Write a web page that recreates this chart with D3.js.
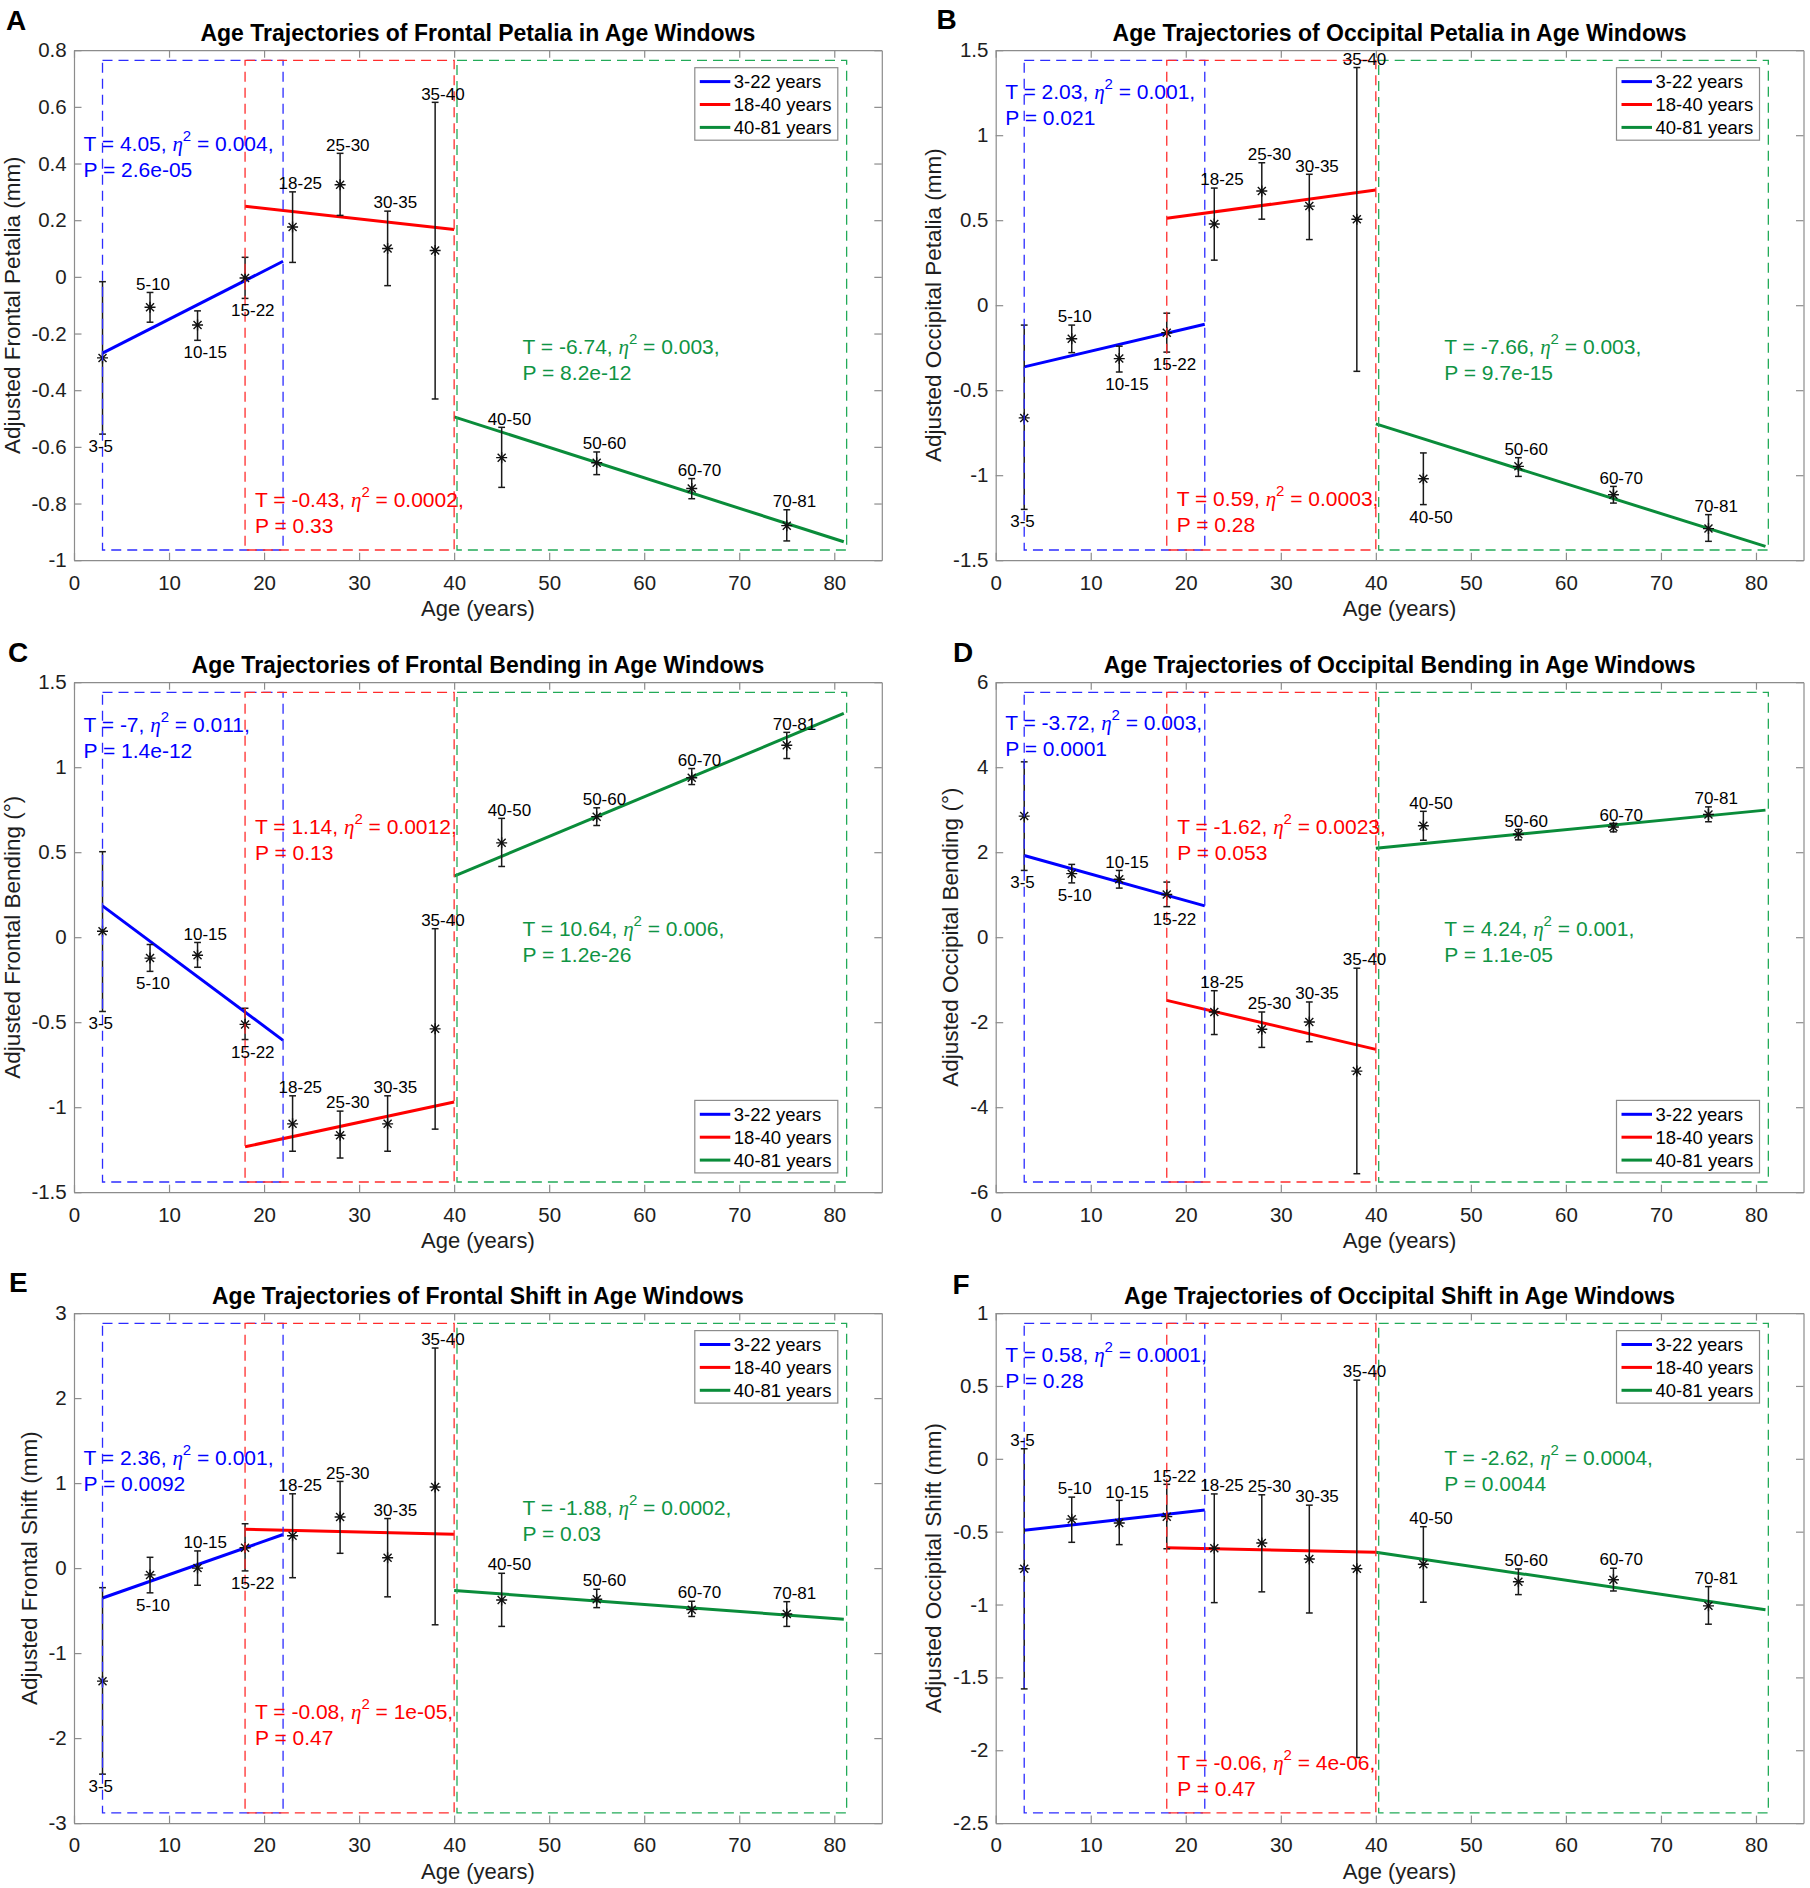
<!DOCTYPE html>
<html>
<head>
<meta charset="utf-8">
<script src="https://cdn.jsdelivr.net/npm/d3@7"></script>
<style>body{margin:0;background:#fff}</style>
</head>
<body>
<svg id="chart" width="1810" height="1888"></svg>
<script>
// ---------------- DATA ----------------
const ageGroups = ["3-5","5-10","10-15","15-22","18-25","25-30","30-35","35-40","40-50","50-60","60-70","70-81"];
const ageMidpoints = [3, 8, 13, 18, 23, 28, 33, 38, 45, 55, 65, 75];
const xDomain = [0, 85];
const xTicks = [0, 10, 20, 30, 40, 50, 60, 70, 80];
const windowNames = ["3-22 years", "18-40 years", "40-81 years"];
const fitRanges = [[3, 22], [18, 40], [40, 81]];
const boxRanges = [[3, 22], [18, 40], [40.3, 81.3]];

const panelLetters = ["A", "B", "C", "D", "E", "F"];
const panelTitles = [
  "Age Trajectories of Frontal Petalia in Age Windows",
  "Age Trajectories of Occipital Petalia in Age Windows",
  "Age Trajectories of Frontal Bending in Age Windows",
  "Age Trajectories of Occipital Bending in Age Windows",
  "Age Trajectories of Frontal Shift in Age Windows",
  "Age Trajectories of Occipital Shift in Age Windows"
];
const yLabels = [
  "Adjusted Frontal Petalia (mm)",
  "Adjusted Occipital Petalia (mm)",
  "Adjusted Frontal Bending (°)",
  "Adjusted Occipital Bending (°)",
  "Adjusted Frontal Shift (mm)",
  "Adjusted Occipital Shift (mm)"
];
const yDomains = [[-1, 0.8], [-1.5, 1.5], [-1.5, 1.5], [-6, 6], [-3, 3], [-2.5, 1]];
const yTickSets = [
  [-1, -0.8, -0.6, -0.4, -0.2, 0, 0.2, 0.4, 0.6, 0.8],
  [-1.5, -1, -0.5, 0, 0.5, 1, 1.5],
  [-1.5, -1, -0.5, 0, 0.5, 1, 1.5],
  [-6, -4, -2, 0, 2, 4, 6],
  [-3, -2, -1, 0, 1, 2, 3],
  [-2.5, -2, -1.5, -1, -0.5, 0, 0.5, 1]
];

// A: Frontal Petalia
const frontalPetaliaMean = [-0.286, -0.107, -0.170, -0.004, 0.176, 0.325, 0.100, 0.093, -0.638, -0.656, -0.747, -0.878];
const frontalPetaliaLow  = [-0.555, -0.160, -0.224, -0.076, 0.051, 0.217, -0.031, -0.431, -0.743, -0.698, -0.783, -0.932];
const frontalPetaliaHigh = [-0.017, -0.055, -0.120, 0.069, 0.300, 0.436, 0.232, 0.616, -0.531, -0.618, -0.712, -0.822];
const frontalPetaliaTrend = [[-0.269, 0.055], [0.249, 0.167], [-0.494, -0.935]];
const frontalPetaliaLabelSide = ["b","a","b","b","a","a","a","a","a","a","a","a"];
const frontalPetaliaStats = [["4.05", "0.004", "2.6e-05"], ["-0.43", "0.0002", "0.33"], ["-6.74", "0.003", "8.2e-12"]];
const frontalPetaliaStatAt = [[1.0, 0.445], [19.05, -0.811], [47.2, -0.273]];

// B: Occipital Petalia
const occipitalPetaliaMean = [-0.663, -0.197, -0.314, -0.162, 0.478, 0.672, 0.583, 0.506, -1.021, -0.948, -1.115, -1.314];
const occipitalPetaliaLow  = [-1.201, -0.279, -0.393, -0.276, 0.265, 0.506, 0.386, -0.389, -1.173, -1.007, -1.164, -1.389];
const occipitalPetaliaHigh = [-0.117, -0.117, -0.241, -0.047, 0.689, 0.838, 0.770, 1.398, -0.869, -0.897, -1.066, -1.232];
const occipitalPetaliaTrend = [[-0.363, -0.112], [0.511, 0.677], [-0.698, -1.419]];
const occipitalPetaliaLabelSide = ["b","a","b","b","a","a","a","a","b","a","a","a"];
const occipitalPetaliaStats = [["2.03", "0.001", "0.021"], ["0.59", "0.0003", "0.28"], ["-7.66", "0.003", "9.7e-15"]];
const occipitalPetaliaStatAt = [[1.0, 1.211], [19.05, -1.183], [47.2, -0.288]];

// C: Frontal Bending
const frontalBendingMean = [0.035, -0.123, -0.106, -0.513, -1.098, -1.165, -1.098, -0.539, 0.555, 0.709, 0.938, 1.129];
const frontalBendingLow  = [-0.437, -0.201, -0.177, -0.602, -1.259, -1.299, -1.259, -1.129, 0.416, 0.657, 0.898, 1.051];
const frontalBendingHigh = [0.503, -0.043, -0.031, -0.418, -0.933, -1.023, -0.933, 0.050, 0.699, 0.761, 0.992, 1.205];
const frontalBendingTrend = [[0.184, -0.607], [-1.233, -0.969], [0.359, 1.316]];
const frontalBendingLabelSide = ["b","b","a","b","a","a","a","a","a","a","a","a"];
const frontalBendingStats = [["-7", "0.011", "1.4e-12"], ["1.14", "0.0012", "0.13"], ["10.64", "0.006", "1.2e-26"]];
const frontalBendingStatAt = [[1.0, 1.205], [19.05, 0.607], [47.2, 0.007]];

// D: Occipital Bending
const occipitalBendingMean = [2.849, 1.495, 1.363, 1.003, -1.760, -2.167, -1.997, -3.151, 2.621, 2.423, 2.593, 2.886];
const occipitalBendingLow  = [1.571, 1.278, 1.155, 0.719, -2.290, -2.593, -2.460, -5.565, 2.281, 2.290, 2.479, 2.716];
const occipitalBendingHigh = [4.126, 1.713, 1.571, 1.297, -1.259, -1.760, -1.524, -0.729, 2.962, 2.536, 2.678, 3.066];
const occipitalBendingTrend = [[1.921, 0.738], [-1.486, -2.640], [2.091, 2.990]];
const occipitalBendingLabelSide = ["b","b","a","b","a","a","a","a","a","a","a","a"];
const occipitalBendingStats = [["-3.72", "0.003", "0.0001"], ["-1.62", "0.0023", "0.053"], ["4.24", "0.001", "1.1e-05"]];
const occipitalBendingStatAt = [[1.0, 4.864], [19.1, 2.423], [47.2, 0.019]];

// E: Frontal Shift
const frontalShiftMean = [-1.330, -0.080, 0.000, 0.240, 0.381, 0.601, 0.122, 0.954, -0.376, -0.366, -0.489, -0.540];
const frontalShiftLow  = [-2.424, -0.291, -0.202, -0.033, -0.113, 0.174, -0.338, -0.667, -0.686, -0.465, -0.569, -0.686];
const frontalShiftHigh = [-0.230, 0.127, 0.202, 0.522, 0.874, 1.020, 0.583, 2.589, -0.061, -0.249, -0.390, -0.395];
const frontalShiftTrend = [[-0.352, 0.395], [0.456, 0.399], [-0.263, -0.601]];
const frontalShiftLabelSide = ["b","b","a","b","a","a","a","a","a","a","a","a"];
const frontalShiftStats = [["2.36", "0.001", "0.0092"], ["-0.08", "1e-05", "0.47"], ["-1.88", "0.0002", "0.03"]];
const frontalShiftStatAt = [[1.0, 1.217], [19.05, -1.776], [47.2, 0.620]];

// F: Occipital Shift
const occipitalShiftMean = [-0.754, -0.414, -0.441, -0.397, -0.614, -0.578, -0.688, -0.754, -0.724, -0.844, -0.830, -1.009];
const occipitalShiftLow  = [-1.579, -0.573, -0.589, -0.617, -0.987, -0.913, -1.058, -2.050, -0.984, -0.932, -0.907, -1.135];
const occipitalShiftHigh = [0.069, -0.263, -0.285, -0.175, -0.241, -0.247, -0.318, 0.540, -0.466, -0.756, -0.751, -0.877];
const occipitalShiftTrend = [[-0.491, -0.351], [-0.611, -0.641], [-0.641, -1.036]];
const occipitalShiftLabelSide = ["a","a","a","a","a","a","a","a","a","a","a","a"];
const occipitalShiftStats = [["0.58", "0.0001", "0.28"], ["-0.06", "4e-06", "0.47"], ["-2.62", "0.0004", "0.0044"]];
const occipitalShiftStatAt = [[1.0, 0.663], [19.1, -2.138], [47.2, -0.044]];

const legendCorners = ["top", "top", "bottom", "bottom", "top", "top"];

// ---------------- BUILD PANELS ----------------
const panels = [
  [frontalPetaliaMean, frontalPetaliaLow, frontalPetaliaHigh, frontalPetaliaTrend, frontalPetaliaLabelSide, frontalPetaliaStats, frontalPetaliaStatAt],
  [occipitalPetaliaMean, occipitalPetaliaLow, occipitalPetaliaHigh, occipitalPetaliaTrend, occipitalPetaliaLabelSide, occipitalPetaliaStats, occipitalPetaliaStatAt],
  [frontalBendingMean, frontalBendingLow, frontalBendingHigh, frontalBendingTrend, frontalBendingLabelSide, frontalBendingStats, frontalBendingStatAt],
  [occipitalBendingMean, occipitalBendingLow, occipitalBendingHigh, occipitalBendingTrend, occipitalBendingLabelSide, occipitalBendingStats, occipitalBendingStatAt],
  [frontalShiftMean, frontalShiftLow, frontalShiftHigh, frontalShiftTrend, frontalShiftLabelSide, frontalShiftStats, frontalShiftStatAt],
  [occipitalShiftMean, occipitalShiftLow, occipitalShiftHigh, occipitalShiftTrend, occipitalShiftLabelSide, occipitalShiftStats, occipitalShiftStatAt]
].map((a, i) => ({
  letter: panelLetters[i], title: panelTitles[i], ylabel: yLabels[i],
  yDomain: yDomains[i], yTicks: yTickSets[i],
  mean: a[0], low: a[1], high: a[2], trend: a[3], side: a[4], stats: a[5], statAt: a[6],
  legend: legendCorners[i]
}));

// ---------------- LAYOUT / STYLE ----------------
const SANS = '"Liberation Sans", Arial, Helvetica, sans-serif';
const SERIF = '"Liberation Serif", "Times New Roman", serif';
const PW = 807.8, PH = 510;
const LEFTS = [74, 995.7], TOPS = [50.2, 682.2, 1313.1];
const LETTER_POS = [[6, 30], [936.5, 28.7], [8, 662], [953, 662], [9, 1292], [952.5, 1294]];
const LINE_COLORS = ["#0000ff", "#ff0000", "#0a8c3a"];
const BOX_COLORS = ["#2c2cff", "#ff2c2c", "#22aa58"];
const TEXT_COLORS = ["#0000ff", "#ff0000", "#0f9444"];
const AX = "#8c8c8c";

const svg = d3.select("#chart");
svg.append("rect").attr("width", 1810).attr("height", 1888).attr("fill", "#fff");

const fmt = v => String(+v.toFixed(2));
const starPath = "M-5.5,0H5.5M0,-5.5V5.5M-4,-4L4,4M-4,4L4,-4";

panels.forEach((p, i) => {
  const L = LEFTS[i % 2], T = TOPS[Math.floor(i / 2)];
  const x = d3.scaleLinear().domain(xDomain).range([L, L + PW]);
  const y = d3.scaleLinear().domain(p.yDomain).range([T + PH, T]);
  const g = svg.append("g");

  // axes (box with inward ticks)
  const aB = g.append("g").attr("transform", `translate(0,${T + PH})`)
    .call(d3.axisBottom(x).tickValues(xTicks).tickSizeInner(-7.5).tickSizeOuter(0).tickPadding(14.8).tickFormat(d => String(d)));
  const aT = g.append("g").attr("transform", `translate(0,${T})`)
    .call(d3.axisTop(x).tickValues(xTicks).tickSizeInner(-7.5).tickSizeOuter(0).tickFormat(""));
  const aL = g.append("g").attr("transform", `translate(${L},0)`)
    .call(d3.axisLeft(y).tickValues(p.yTicks).tickSizeInner(-7.5).tickSizeOuter(0).tickPadding(7.3).tickFormat(fmt));
  const aR = g.append("g").attr("transform", `translate(${L + PW},0)`)
    .call(d3.axisRight(y).tickValues(p.yTicks).tickSizeInner(-7.5).tickSizeOuter(0).tickFormat(""));
  [aB, aT, aL, aR].forEach(a => {
    a.attr("font-family", null).attr("font-size", null);
    a.select(".domain").attr("stroke", AX).attr("stroke-width", 1.2);
    a.selectAll(".tick line").attr("stroke", AX).attr("stroke-width", 1.2);
    a.selectAll(".tick text").attr("fill", "#1e1e1e").style("font-family", SANS).style("font-size", "20.5px");
  });

  // y label
  const maxW = d3.max(aL.selectAll(".tick text").nodes(), n => n.getBBox().width);
  const bx = L - 7.3 - maxW - 7 - 4.7;
  g.append("text").attr("transform", `translate(${bx},${T + PH / 2}) rotate(-90)`)
    .attr("text-anchor", "middle").attr("fill", "#1e1e1e")
    .style("font-family", SANS).style("font-size", "22.5px")
    .text(p.ylabel);

  // x label
  g.append("text").attr("x", L + PW / 2).attr("y", T + PH + 56).attr("text-anchor", "middle")
    .attr("fill", "#1e1e1e").style("font-family", SANS).style("font-size", "22px").text("Age (years)");

  // title
  g.append("text").attr("x", L + PW / 2).attr("y", T - 9).attr("text-anchor", "middle")
    .attr("fill", "#000").style("font-family", SANS).style("font-size", "23px").style("font-weight", "bold")
    .text(p.title);

  // panel letter
  g.append("text").attr("x", LETTER_POS[i][0]).attr("y", LETTER_POS[i][1])
    .attr("fill", "#000").style("font-family", SANS).style("font-size", "28px").style("font-weight", "bold")
    .text(p.letter);

  // trend lines
  fitRanges.forEach((r, w) => {
    g.append("line").attr("x1", x(r[0])).attr("y1", y(p.trend[w][0]))
      .attr("x2", x(r[1])).attr("y2", y(p.trend[w][1]))
      .attr("stroke", LINE_COLORS[w]).attr("stroke-width", 3);
  });

  // error bars + stars
  ageMidpoints.forEach((m, k) => {
    const cx = x(m);
    const eg = g.append("g").attr("stroke", "#1a1a1a").attr("stroke-width", 1.5);
    eg.append("line").attr("x1", cx).attr("x2", cx).attr("y1", y(p.low[k])).attr("y2", y(p.high[k]));
    eg.append("line").attr("x1", cx - 3.4).attr("x2", cx + 3.4).attr("y1", y(p.low[k])).attr("y2", y(p.low[k]));
    eg.append("line").attr("x1", cx - 3.4).attr("x2", cx + 3.4).attr("y1", y(p.high[k])).attr("y2", y(p.high[k]));
    g.append("path").attr("d", starPath).attr("transform", `translate(${cx},${y(p.mean[k])})`)
      .attr("stroke", "#111").attr("stroke-width", 1.4).attr("fill", "none");
  });

  // dashed age-window boxes
  const [y0, y1] = p.yDomain, rr = y1 - y0;
  boxRanges.forEach((r, w) => {
    g.append("rect").attr("x", x(r[0])).attr("y", y(y1 - 0.02 * rr))
      .attr("width", x(r[1]) - x(r[0])).attr("height", y(y0 + 0.02 * rr) - y(y1 - 0.02 * rr))
      .attr("fill", "none").attr("stroke", BOX_COLORS[w]).attr("stroke-width", 1.3)
      .attr("stroke-dasharray", "10,6");
  });

  // age-group labels
  ageGroups.forEach((lab, k) => {
    const above = p.side[k] === "a";
    g.append("text").attr("x", x(ageMidpoints[k]) - 14)
      .attr("y", above ? y(p.high[k]) - 2.8 : y(p.low[k]) + 18)
      .attr("fill", "#000").style("font-family", SANS).style("font-size", "17px").text(lab);
  });

  // statistics annotations
  p.stats.forEach((s, w) => {
    const sx = x(p.statAt[w][0]), sy = y(p.statAt[w][1]);
    const t = g.append("text").attr("x", sx).attr("y", sy).attr("fill", TEXT_COLORS[w])
      .style("font-family", SANS).style("font-size", "21px");
    t.append("tspan").text(`T = ${s[0]}, `);
    t.append("tspan").style("font-family", SERIF).style("font-style", "italic").text("η");
    t.append("tspan").attr("dy", -10).style("font-size", "15px").text("2");
    t.append("tspan").attr("dy", 10).text(` = ${s[1]},`);
    g.append("text").attr("x", sx).attr("y", sy + 26).attr("fill", TEXT_COLORS[w])
      .style("font-family", SANS).style("font-size", "21px").text(`P = ${s[2]}`);
  });

  // legend
  const LW = 143, LH = 72.5;
  const lx = L + PW - 44 - LW;
  const ly = p.legend === "top" ? T + 17.5 : T + PH - 19.3 - LH;
  const lg = g.append("g").attr("transform", `translate(${lx},${ly})`);
  lg.append("rect").attr("width", LW).attr("height", LH).attr("fill", "#fff")
    .attr("stroke", "#8c8c8c").attr("stroke-width", 1.2);
  windowNames.forEach((nm, w) => {
    const cy = 13.9 + w * 22.9;
    lg.append("line").attr("x1", 5).attr("x2", 35.5).attr("y1", cy).attr("y2", cy)
      .attr("stroke", LINE_COLORS[w]).attr("stroke-width", 3);
    lg.append("text").attr("x", 39).attr("y", cy + 6.6).attr("fill", "#000")
      .style("font-family", SANS).style("font-size", "18.5px").text(nm);
  });
});
</script>
</body>
</html>
